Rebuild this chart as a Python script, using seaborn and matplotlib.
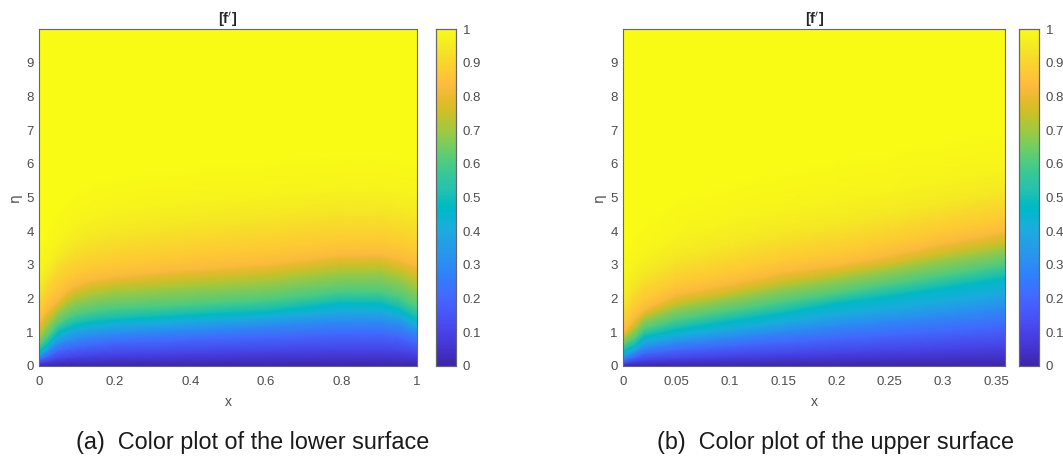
import numpy as np
import pandas as pd
import matplotlib
matplotlib.use("Agg")
import matplotlib.pyplot as plt
import seaborn as sns

# f' levels and the eta height at which each level is seen, per x station
levels = [0, 0.1, 0.2, 0.3, 0.4, 0.47, 0.5, 0.6, 0.7, 0.75, 0.8, 0.83, 0.87, 0.9, 0.95, 0.98, 1.0, 1.0]

lower_x = [0, 0.02, 0.05, 0.075, 0.1, 0.14, 0.2, 0.4, 0.6, 0.8, 0.9, 0.95, 1.0]
lower_eta = [
    [0, 0, 0, 0, 0, 0, 0, 0, 0, 0, 0, 0, 0],
    [.10, .14, .22, .25, .28, .31, .34, .39, .43, .47, .47, .44, .36],
    [.20, .28, .45, .52, .57, .63, .69, .78, .86, .95, .95, .88, .72],
    [.28, .42, .66, .75, .83, .90, .97, 1.08, 1.20, 1.33, 1.33, 1.24, 1.02],
    [.36, .52, .84, .97, 1.06, 1.13, 1.21, 1.33, 1.44, 1.62, 1.62, 1.50, 1.22],
    [.45, .62, 1.00, 1.12, 1.22, 1.30, 1.37, 1.50, 1.60, 1.86, 1.85, 1.70, 1.38],
    [.48, .66, 1.05, 1.18, 1.28, 1.36, 1.43, 1.56, 1.67, 1.93, 1.92, 1.77, 1.45],
    [.60, .85, 1.25, 1.42, 1.53, 1.62, 1.70, 1.82, 1.95, 2.20, 2.20, 2.05, 1.75],
    [.85, 1.20, 1.62, 1.84, 1.98, 2.10, 2.20, 2.36, 2.50, 2.78, 2.80, 2.65, 2.35],
    [1.00, 1.38, 1.75, 2.00, 2.16, 2.30, 2.40, 2.58, 2.72, 3.00, 3.02, 2.88, 2.62],
    [1.20, 1.55, 1.90, 2.18, 2.33, 2.48, 2.58, 2.78, 2.93, 3.20, 3.22, 3.10, 2.88],
    [1.30, 1.65, 2.00, 2.28, 2.43, 2.58, 2.68, 2.88, 3.03, 3.30, 3.32, 3.20, 3.00],
    [1.55, 1.95, 2.35, 2.60, 2.75, 2.90, 3.00, 3.25, 3.42, 3.65, 3.67, 3.55, 3.38],
    [1.90, 2.30, 2.75, 2.95, 3.10, 3.27, 3.40, 3.65, 3.85, 4.05, 4.05, 3.95, 3.80],
    [2.30, 2.70, 3.20, 3.45, 3.65, 3.85, 4.00, 4.30, 4.50, 4.70, 4.70, 4.60, 4.45],
    [2.70, 3.20, 3.70, 4.00, 4.25, 4.45, 4.65, 4.95, 5.10, 5.30, 5.30, 5.20, 5.10],
    [3.50, 4.00, 4.60, 5.00, 5.20, 5.50, 5.70, 6.00, 6.20, 6.40, 6.40, 6.30, 6.20],
    [10, 10, 10, 10, 10, 10, 10, 10, 10, 10, 10, 10, 10],
]

upper_x = [0, 0.005, 0.01, 0.02, 0.05, 0.1, 0.15, 0.2, 0.25, 0.3, 0.358]
upper_eta = [
    [0, 0, 0, 0, 0, 0, 0, 0, 0, 0, 0],
    [.08, .11, .13, .18, .23, .29, .34, .39, .45, .50, .58],
    [.17, .22, .27, .38, .48, .60, .71, .82, .92, 1.03, 1.18],
    [.25, .32, .39, .55, .70, .86, 1.03, 1.20, 1.35, 1.50, 1.72],
    [.34, .42, .50, .72, .89, 1.10, 1.30, 1.53, 1.71, 1.91, 2.17],
    [.45, .53, .60, .87, 1.07, 1.32, 1.56, 1.85, 2.06, 2.30, 2.60],
    [.48, .56, .63, .92, 1.13, 1.39, 1.63, 1.92, 2.13, 2.38, 2.68],
    [.60, .72, .80, 1.10, 1.37, 1.64, 1.90, 2.15, 2.42, 2.68, 3.00],
    [.80, .95, 1.08, 1.42, 1.75, 2.04, 2.35, 2.60, 2.88, 3.18, 3.50],
    [.87, 1.03, 1.18, 1.52, 1.88, 2.18, 2.50, 2.75, 3.02, 3.34, 3.68],
    [.95, 1.13, 1.32, 1.62, 2.05, 2.35, 2.70, 2.92, 3.20, 3.55, 3.90],
    [1.00, 1.20, 1.40, 1.70, 2.15, 2.45, 2.80, 3.00, 3.30, 3.65, 4.00],
    [1.22, 1.44, 1.66, 1.96, 2.42, 2.76, 3.10, 3.32, 3.62, 3.97, 4.32],
    [1.50, 1.75, 2.00, 2.30, 2.75, 3.10, 3.45, 3.70, 4.00, 4.35, 4.70],
    [1.90, 2.20, 2.45, 2.75, 3.25, 3.65, 4.00, 4.25, 4.55, 4.85, 5.20],
    [2.40, 2.75, 3.00, 3.30, 3.90, 4.35, 4.70, 5.00, 5.25, 5.55, 5.90],
    [3.20, 3.60, 3.90, 4.30, 5.00, 5.50, 5.90, 6.20, 6.50, 6.80, 7.10],
    [10, 10, 10, 10, 10, 10, 10, 10, 10, 10, 10],
]

cbar_ticks = [0, 0.1, 0.2, 0.3, 0.4, 0.5, 0.6, 0.7, 0.8, 0.9, 1]
cbar_labels = ["0", "0.1", "0.2", "0.3", "0.4", "0.5", "0.6", "0.7", "0.8", "0.9", "1"]
eta_ticks = [0, 1, 2, 3, 4, 5, 6, 7, 8, 9]
lower_xticks = [0, 0.2, 0.4, 0.6, 0.8, 1]
lower_xlabels = ["0", "0.2", "0.4", "0.6", "0.8", "1"]
upper_xticks = [0, 0.05, 0.1, 0.15, 0.2, 0.25, 0.3, 0.35]
upper_xlabels = ["0", "0.05", "0.1", "0.15", "0.2", "0.25", "0.3", "0.35"]
caption_a = "(a)  Color plot of the lower surface"
caption_b = "(b)  Color plot of the upper surface"

PARULA = [
    (.2422,.1504,.6603),(.2504,.1650,.7076),(.2578,.1818,.7511),(.2647,.1978,.7952),
    (.2706,.2147,.8364),(.2751,.2342,.8710),(.2783,.2559,.8991),(.2803,.2782,.9221),
    (.2813,.3006,.9414),(.2810,.3228,.9579),(.2795,.3447,.9717),(.2760,.3667,.9829),
    (.2699,.3892,.9906),(.2602,.4123,.9952),(.2440,.4358,.9988),(.2206,.4603,.9973),
    (.1963,.4847,.9892),(.1834,.5074,.9798),(.1786,.5289,.9682),(.1764,.5499,.9520),
    (.1687,.5703,.9359),(.1540,.5902,.9218),(.1460,.6091,.9079),(.1380,.6276,.8973),
    (.1248,.6459,.8883),(.1113,.6635,.8763),(.0952,.6798,.8598),(.0689,.6948,.8394),
    (.0297,.7082,.8163),(.0036,.7203,.7917),(.0067,.7312,.7660),(.0433,.7411,.7394),
    (.0964,.7500,.7120),(.1408,.7584,.6842),(.1717,.7670,.6554),(.1938,.7758,.6251),
    (.2161,.7843,.5923),(.2470,.7918,.5567),(.2906,.7973,.5188),(.3406,.8008,.4789),
    (.3909,.8029,.4354),(.4456,.8024,.3909),(.5044,.7993,.3480),(.5616,.7942,.3045),
    (.6174,.7876,.2612),(.6720,.7793,.2227),(.7242,.7698,.1910),(.7738,.7598,.1646),
    (.8203,.7498,.1535),(.8634,.7406,.1596),(.9035,.7330,.1774),(.9393,.7288,.2100),
    (.9728,.7298,.2394),(.9956,.7434,.2371),(.9970,.7659,.2199),(.9952,.7893,.2028),
    (.9892,.8136,.1885),(.9786,.8386,.1766),(.9676,.8639,.1643),(.9610,.8890,.1537),
    (.9597,.9135,.1423),(.9628,.9373,.1265),(.9691,.9606,.1064),(.9769,.9839,.0805),
]

sns.set_theme(style="white")
plt.rcParams["font.family"] = ["Liberation Sans", "DejaVu Sans"]
parula = sns.blend_palette(PARULA, n_colors=256, as_cmap=True)

W, H = 1063, 457
GRAY = "#4d4d4d"
fig = plt.figure(figsize=(W / 100, H / 100), dpi=100)


def box(l, r, t, b):
    return [l / W, 1 - b / H, (r - l) / W, (b - t) / H]


def panel(xs, table, ax_box, cax_box, xlim, xticks, xlabels, caption, cap_x):
    ax = fig.add_axes(box(*ax_box))
    cax = fig.add_axes(box(*cax_box))
    eta = np.array(table, dtype=float)
    lev = np.array(levels, dtype=float)
    values = pd.DataFrame(np.tile(lev[:, None], (1, len(xs))), columns=xs)
    # seaborn builds the colour scale and its bar; the field itself follows the eta table
    sns.heatmap(values, ax=ax, cbar_ax=cax, cmap=parula, vmin=0, vmax=1,
                xticklabels=False, yticklabels=False)
    ax.collections[0].remove()
    X = np.tile(np.array(xs, dtype=float), (len(levels), 1))
    ax.pcolormesh(X, eta, values.to_numpy(), shading="gouraud", cmap=parula, vmin=0, vmax=1)
    ax.set_xlim(*xlim)
    ax.set_ylim(0, 10)
    ax.set_xticks(xticks, xlabels)
    ax.set_yticks(eta_ticks, [str(v) for v in eta_ticks])
    ax.tick_params(direction="in", top=True, right=True, length=2.2, width=0.7,
                   color="#262626", labelsize=9.5, labelcolor=GRAY)
    ax.tick_params(axis="x", pad=7.5)
    ax.tick_params(axis="y", pad=4)
    for s in ax.spines.values():
        s.set_visible(True)
        s.set_linewidth(0.8)
        s.set_color("#666666")
    ax.set_xlabel("x", fontsize=10, color=GRAY, labelpad=5)
    ax.set_ylabel("η", fontsize=10, color=GRAY, labelpad=3.5, family=["DejaVu Sans"])
    ax.set_title("[f$'$]", fontsize=10.5, fontweight="bold", color="#262626", pad=3.5)
    cax.set_yticks(cbar_ticks, cbar_labels)
    cax.tick_params(axis="y", direction="in", right=True, left=False, length=2, width=0.7,
                    color="#262626", labelsize=9.5, labelcolor=GRAY, pad=5)
    for s in cax.spines.values():
        s.set_visible(True)
        s.set_linewidth(0.8)
        s.set_color("#666666")
    fig.text(cap_x / W, 1 - 443 / H, caption, fontsize=16.8, color="#1a1a1a",
             ha="center", va="center")


panel(lower_x, lower_eta, (39.3, 416.7, 29, 366), (436, 456, 29, 366), (0, 1),
      lower_xticks, lower_xlabels, caption_a, 252.5)
panel(upper_x, upper_eta, (623.3, 1005, 29, 366), (1019, 1039, 29, 366), (0, 0.358),
      upper_xticks, upper_xlabels, caption_b, 835.5)

fig.savefig("out.png", dpi=100)
